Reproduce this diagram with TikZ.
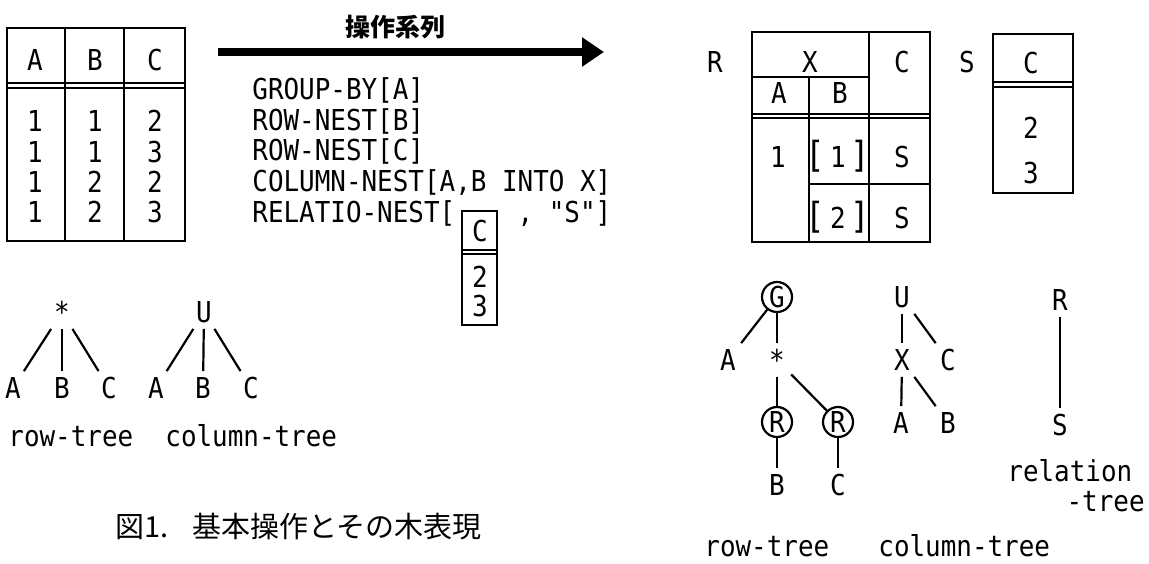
\documentclass[tikz,border=0pt]{standalone}
\usepackage{fontspec}
\setmonofont{DejaVu Sans Mono}[FakeStretch=0.9]
\newfontfamily\cjk{Noto Sans CJK JP}
\usetikzlibrary{arrows.meta}
\newcommand\brk[1]{{\fontsize{18}{18}\selectfont #1}}

\begin{document}
\begin{tikzpicture}[x=0.5pt, y=-0.5pt,
    txt/.style={font=\ttfamily\fontsize{14.4}{16}\selectfont, inner sep=0pt, text height=10.5pt, text depth=0pt},
    lbl/.style={txt, inner sep=3pt},
    circ/.style={txt, draw, circle, minimum size=15pt, line width=1.1pt},
    tabline/.style={line width=1.3pt},
    thinline/.style={line width=0.8pt},
    branch/.style={line width=1.1pt},
    bigarrow/.style={line width=4pt, -{Triangle[length=11pt, width=14pt]}}]
    \useasboundingbox (0,0) rectangle (1149,563);

    \draw[tabline] (7,28) rectangle (185,241);
    \draw[tabline] (65,28) -- (65,241);
    \draw[tabline] (124,28) -- (124,241);
    \draw[tabline] (7,83) -- (185,83);
    \draw[thinline] (7,88) -- (185,88);
    \node[txt] (hA) at (35,60) {A};
    \node[txt] (hB) at (95,60) {B};
    \node[txt] (hC) at (155,60) {C};
    \node[txt] (a1) at (35,121) {1};
    \node[txt] (b1) at (95,121) {1};
    \node[txt] (c1) at (155,121) {2};
    \node[txt] (a2) at (35,152) {1};
    \node[txt] (b2) at (95,152) {1};
    \node[txt] (c2) at (155,152) {3};
    \node[txt] (a3) at (35,182) {1};
    \node[txt] (b3) at (95,182) {2};
    \node[txt] (c3) at (155,182) {2};
    \node[txt] (a4) at (35,212) {1};
    \node[txt] (b4) at (95,212) {2};
    \node[txt] (c4) at (155,212) {3};

    \node[font=\cjk\bfseries\fontsize{12.5}{14}\selectfont] (oplabel) at (395,27) {操作系列};
    \coordinate (opStart) at (218,52);
    \coordinate (opEnd) at (604,52);
    \draw[bigarrow] (opStart) -- (opEnd);

    \node[txt, anchor=west] (op1) at (252,89) {GROUP-BY[A]};
    \node[txt, anchor=west] (op2) at (252,120) {ROW-NEST[B]};
    \node[txt, anchor=west] (op3) at (252,150) {ROW-NEST[C]};
    \node[txt, anchor=west] (op4) at (252,181) {COLUMN-NEST[A,B INTO X]};
    \node[txt, anchor=west] (op5) at (252,212) {RELATIO-NEST[\phantom{CCCC}, "S"]};
    \draw[tabline] (462,211) rectangle (497,325);
    \draw[tabline] (462,250) -- (497,250);
    \draw[thinline] (462,254) -- (497,254);
    \node[txt] (sc) at (480,231) {C};
    \node[txt] (s2) at (480,277) {2};
    \node[txt] (s3) at (480,306) {3};

    \node[txt] (rname) at (715,62) {R};
    \draw[tabline] (752,32) rectangle (930,242);
    \draw[tabline] (869,32) -- (869,242);
    \draw[tabline] (752,77) -- (869,77);
    \draw[tabline] (809,77) -- (809,242);
    \draw[tabline] (752,114) -- (930,114);
    \draw[thinline] (752,118) -- (930,118);
    \draw[tabline] (809,184) -- (930,184);
    \node[txt] (rX) at (810,62) {X};
    \node[txt] (rCh) at (902,62) {C};
    \node[txt] (rAh) at (779,93) {A};
    \node[txt] (rBh) at (840,93) {B};
    \node[txt] (rv1) at (778,157) {1};
    \node[txt] (rb1) at (838,157) {\brk{[}\,1\,\brk{]}};
    \node[txt] (rs1) at (902,157) {S};
    \node[txt] (rb2) at (838,218) {\brk{[}\,2\,\brk{]}};
    \node[txt] (rs2) at (902,218) {S};

    \node[txt] (sname) at (967,62) {S};
    \draw[tabline] (993,34) rectangle (1073,193);
    \draw[tabline] (993,82) -- (1073,82);
    \draw[thinline] (993,87) -- (1073,87);
    \node[txt] (sCh) at (1031,63) {C};
    \node[txt] (sv1) at (1031,128) {2};
    \node[txt] (sv2) at (1031,173) {3};

    \node[lbl] (lStar) at (62,312) {*};
    \node[lbl] (lA) at (13,388) {A};
    \node[lbl] (lB) at (62,388) {B};
    \node[lbl] (lC) at (109,388) {C};
    \draw[branch] (lStar) -- (lA);
    \draw[branch] (lStar) -- (lB);
    \draw[branch] (lStar) -- (lC);
    \node[lbl] (lU) at (204,312) {U};
    \node[lbl] (luA) at (156,388) {A};
    \node[lbl] (luB) at (203,388) {B};
    \node[lbl] (luC) at (251,388) {C};
    \draw[branch] (lU) -- (luA);
    \draw[branch] (lU) -- (luB);
    \draw[branch] (lU) -- (luC);
    \node[txt, anchor=west] (lrow) at (8,436) {row-tree};
    \node[txt, anchor=west] (lcol) at (165,436) {column-tree};
    \node[font=\cjk\fontsize{14.5}{16}\selectfont, anchor=west, inner sep=0pt] (caption) at (115,527) {図1.\hspace{12pt}基本操作とその木表現};

    \node[circ] (rG) at (777,297) {G};
    \node[lbl] (rA) at (728,360) {A};
    \node[lbl] (rStar) at (777,360) {*};
    \node[circ] (rR1) at (777,422) {R};
    \node[circ] (rR2) at (838,422) {R};
    \node[lbl] (rB) at (777,485) {B};
    \node[lbl] (rC) at (838,485) {C};
    \draw[branch] (rG) -- (rA);
    \draw[branch] (rG) -- (rStar);
    \draw[branch] (rStar) -- (rR1);
    \draw[branch] (rStar) -- (rR2);
    \draw[branch] (rR1) -- (rB);
    \draw[branch] (rR2) -- (rC);

    \node[lbl] (cU) at (902,297) {U};
    \node[lbl] (cX) at (902,360) {X};
    \node[lbl] (cC) at (948,360) {C};
    \node[lbl] (cA) at (901,423) {A};
    \node[lbl] (cB) at (948,423) {B};
    \draw[branch] (cU) -- (cX);
    \draw[branch] (cU) -- (cC);
    \draw[branch] (cX) -- (cA);
    \draw[branch] (cX) -- (cB);

    \node[lbl] (relR) at (1060,300) {R};
    \node[lbl] (relS) at (1060,425) {S};
    \draw[branch] (relR) -- (relS);
    \node[txt, anchor=west] (rel1) at (1007,471) {relation};
    \node[txt, anchor=east] (rel2) at (1145,501) {-tree};
    \node[txt, anchor=west] (rrow) at (704,546) {row-tree};
    \node[txt, anchor=west] (rcol) at (878,546) {column-tree};
\end{tikzpicture}
\end{document}
